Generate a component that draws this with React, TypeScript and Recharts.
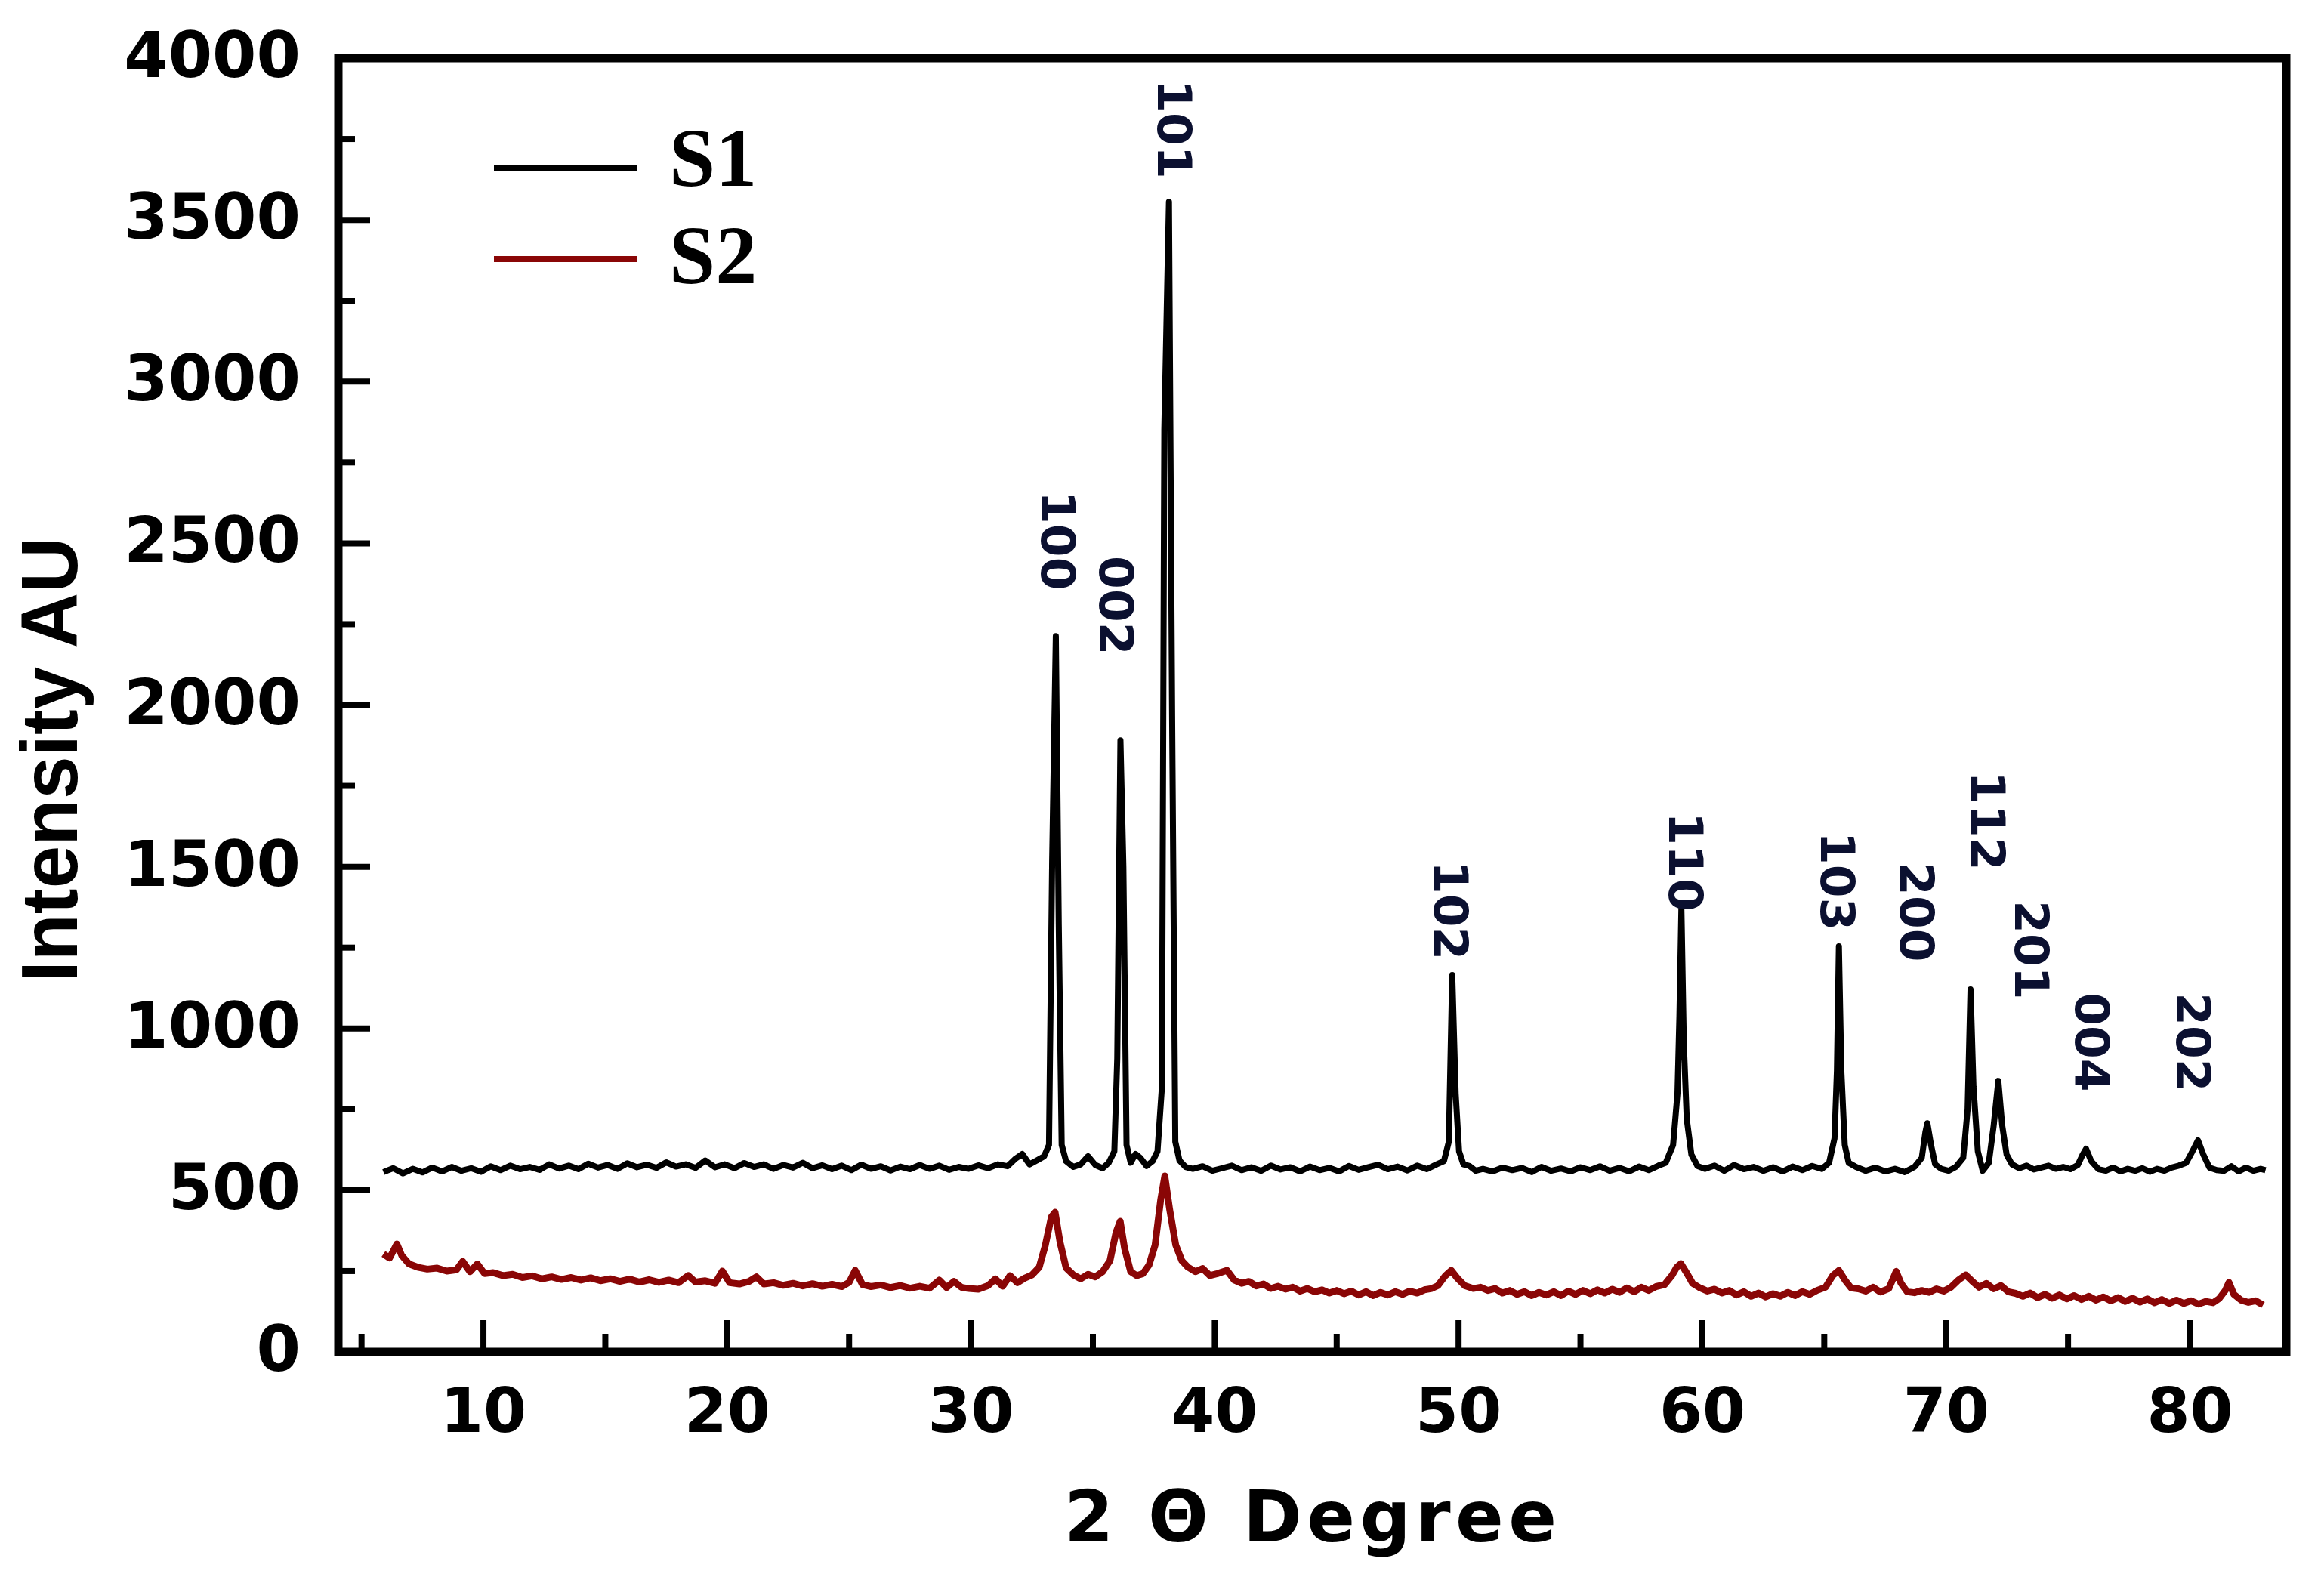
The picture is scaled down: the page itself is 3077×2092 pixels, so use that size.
import React from 'react';
import { ComposedChart, Line, Scatter, XAxis, YAxis, ReferenceArea, Legend, Label } from 'recharts';

const W = 3077;
const H = 2092;

// S1 (black) pattern: [2θ, intensity]
const s1Points: [number, number][] = [
  [5.9,556],[6.3,568],[6.7,552],[7.1,566],[7.5,555],[7.9,570],[8.3,558],[8.7,572],[9.1,560],[9.5,568],[9.9,557],[10.3,574],[10.7,562],[11.1,576],[11.5,565],[11.9,572],[12.3,563],[12.7,580],[13.1,567],[13.5,576],[13.9,565],[14.3,582],[14.7,570],[15.1,578],[15.5,566],[15.9,583],[16.3,571],[16.7,579],[17.1,569],[17.5,586],[17.9,573],[18.3,580],[18.7,569],[19.1,592],[19.5,571],[19.9,580],[20.3,568],[20.7,584],[21.1,572],[21.5,580],[21.9,566],[22.3,578],[22.7,570],[23.1,585],[23.5,568],[23.9,577],[24.3,565],[24.7,576],[25.1,562],[25.5,579],[25.9,566],[26.3,574],[26.7,561],[27.1,573],[27.5,565],[27.9,578],[28.3,566],[28.7,576],[29.1,563],[29.5,572],[29.9,566],[30.3,577],[30.7,568],[31.1,580],[31.5,574],[31.8,596],[32.1,612],[32.4,580],[32.7,592],[33.0,605],[33.2,640],[33.33,1522],[33.48,2213],[33.6,1321],[33.72,640],[33.9,590],[34.2,572],[34.5,580],[34.8,605],[35.1,578],[35.4,568],[35.65,585],[35.88,620],[36.0,908],[36.13,1891],[36.25,1499],[36.38,640],[36.55,585],[36.75,612],[36.95,600],[37.2,575],[37.45,590],[37.65,620],[37.83,817],[37.93,2851],[38.12,3556],[38.25,1968],[38.38,650],[38.55,592],[38.8,572],[39.1,566],[39.5,574],[39.9,560],[40.3,568],[40.7,576],[41.1,562],[41.5,571],[41.9,560],[42.3,576],[42.7,564],[43.1,571],[43.5,558],[43.9,573],[44.3,562],[44.7,569],[45.1,558],[45.5,575],[45.9,563],[46.3,571],[46.7,579],[47.1,565],[47.5,573],[47.9,561],[48.3,576],[48.7,565],[49.1,580],[49.4,590],[49.6,650],[49.74,1165],[49.88,798],[50.02,620],[50.2,580],[50.45,575],[50.7,560],[51.0,566],[51.4,558],[51.8,570],[52.2,562],[52.6,569],[53.0,556],[53.4,572],[53.8,560],[54.2,567],[54.6,558],[55.0,571],[55.4,562],[55.8,574],[56.2,560],[56.6,569],[57.0,558],[57.4,573],[57.8,562],[58.2,576],[58.5,585],[58.8,640],[58.98,800],[59.06,1039],[59.14,1370],[59.24,950],[59.36,720],[59.55,610],[59.8,575],[60.1,566],[60.5,576],[60.9,560],[61.3,578],[61.7,565],[62.1,572],[62.5,560],[62.9,571],[63.3,558],[63.7,573],[64.1,562],[64.5,575],[64.9,566],[65.2,585],[65.42,660],[65.52,869],[65.6,1254],[65.7,869],[65.84,640],[66.0,585],[66.3,572],[66.7,560],[67.1,570],[67.5,558],[67.9,566],[68.3,556],[68.7,572],[69.0,600],[69.15,680],[69.23,707],[69.38,640],[69.55,580],[69.8,566],[70.1,560],[70.4,572],[70.7,600],[70.88,750],[71.0,1121],[71.12,820],[71.3,620],[71.5,560],[71.75,585],[71.95,700],[72.14,838],[72.3,700],[72.48,610],[72.7,580],[73.0,568],[73.3,576],[73.6,564],[73.9,570],[74.2,576],[74.5,566],[74.8,572],[75.1,565],[75.4,578],[75.6,610],[75.74,628],[75.95,590],[76.25,565],[76.55,560],[76.85,570],[77.15,558],[77.45,566],[77.75,560],[78.05,568],[78.35,557],[78.65,566],[78.95,560],[79.25,570],[79.55,576],[79.85,585],[80.1,620],[80.33,654],[80.55,610],[80.8,570],[81.1,562],[81.4,560],[81.7,574],[82.0,558],[82.3,570],[82.6,560],[82.9,566],[83.1,562],
];

// S2 (red) pattern: [2θ, intensity]
const s2Points: [number, number][] = [
  [5.9,303],[6.15,290],[6.45,334],[6.65,298],[6.95,272],[7.3,262],[7.7,256],[8.1,259],[8.5,250],[8.9,254],[9.15,280],[9.45,248],[9.75,272],[10.05,242],[10.4,245],[10.8,236],[11.2,240],[11.6,230],[12.0,235],[12.4,226],[12.8,232],[13.2,224],[13.6,230],[14.0,222],[14.4,229],[14.8,220],[15.2,226],[15.6,218],[16.0,225],[16.4,216],[16.8,223],[17.2,215],[17.6,222],[18.0,214],[18.4,236],[18.7,216],[19.1,220],[19.5,212],[19.8,250],[20.1,214],[20.5,210],[20.9,218],[21.2,232],[21.5,210],[21.9,214],[22.3,206],[22.7,212],[23.1,204],[23.5,211],[23.9,203],[24.3,209],[24.7,202],[25.0,215],[25.25,252],[25.55,208],[25.9,202],[26.3,207],[26.7,199],[27.1,205],[27.5,197],[27.9,203],[28.3,197],[28.7,222],[29.0,199],[29.3,218],[29.6,200],[29.9,196],[30.3,194],[30.7,205],[31.0,226],[31.3,203],[31.6,236],[31.9,214],[32.2,228],[32.5,238],[32.8,262],[33.05,330],[33.3,418],[33.45,432],[33.65,340],[33.9,260],[34.2,238],[34.5,226],[34.8,240],[35.1,232],[35.4,248],[35.7,282],[35.95,370],[36.12,404],[36.3,320],[36.55,248],[36.8,236],[37.05,242],[37.3,268],[37.55,330],[37.78,470],[37.95,544],[38.15,440],[38.4,330],[38.65,282],[38.9,262],[39.2,248],[39.5,258],[39.8,236],[40.1,242],[40.5,252],[40.8,222],[41.1,212],[41.4,218],[41.7,204],[42.0,210],[42.3,196],[42.6,203],[42.9,194],[43.2,200],[43.5,188],[43.8,196],[44.1,186],[44.4,192],[44.7,182],[45.0,190],[45.3,180],[45.6,188],[45.9,176],[46.2,186],[46.5,174],[46.8,184],[47.1,176],[47.4,186],[47.7,178],[48.0,188],[48.3,182],[48.6,192],[48.9,196],[49.15,205],[49.45,235],[49.7,252],[49.95,228],[50.25,205],[50.6,196],[50.9,200],[51.2,190],[51.5,196],[51.8,182],[52.1,190],[52.4,178],[52.7,186],[53.0,174],[53.3,184],[53.6,176],[53.9,186],[54.2,174],[54.5,188],[54.8,178],[55.1,190],[55.4,180],[55.7,192],[56.0,182],[56.3,194],[56.6,184],[56.9,198],[57.2,186],[57.5,200],[57.8,190],[58.1,202],[58.45,208],[58.75,236],[58.95,262],[59.12,273],[59.35,245],[59.6,212],[59.9,198],[60.2,188],[60.5,194],[60.8,182],[61.1,190],[61.4,176],[61.7,186],[62.0,172],[62.3,182],[62.6,170],[62.9,180],[63.2,172],[63.5,184],[63.8,174],[64.1,186],[64.4,178],[64.7,190],[65.05,200],[65.35,236],[65.6,252],[65.85,222],[66.1,198],[66.4,195],[66.7,188],[67.0,200],[67.3,185],[67.65,196],[67.95,249],[68.15,212],[68.4,186],[68.7,183],[69.0,190],[69.3,184],[69.6,195],[69.9,188],[70.2,200],[70.5,222],[70.8,238],[71.05,220],[71.35,200],[71.65,212],[71.95,195],[72.25,205],[72.55,186],[72.85,181],[73.15,172],[73.45,182],[73.75,168],[74.05,178],[74.35,166],[74.65,176],[74.95,164],[75.25,174],[75.55,162],[75.85,172],[76.15,160],[76.45,170],[76.75,158],[77.05,168],[77.35,156],[77.65,166],[77.95,154],[78.25,164],[78.55,152],[78.85,162],[79.15,150],[79.45,160],[79.75,150],[80.05,158],[80.35,148],[80.65,156],[80.95,152],[81.2,165],[81.45,190],[81.6,215],[81.8,178],[82.1,160],[82.4,153],[82.7,158],[83.0,145],
];

// Miller index labels: names, 2θ position, value at top of label
const peakNames = ['100', '002', '101', '102', '110', '103', '200', '112', '201', '004', '202'];
const peakLabelX = [33.57, 35.93, 38.34, 49.68, 59.29, 65.54, 68.77, 71.71, 73.5, 75.98, 80.13];
const peakLabelTop = [2662, 2461, 3934, 1518, 1669, 1609, 1513, 1795, 1396, 1111, 1111];

const xTicks = [5, 10, 15, 20, 25, 30, 35, 40, 45, 50, 55, 60, 65, 70, 75, 80];
const yTicks = [0, 250, 500, 750, 1000, 1250, 1500, 1750, 2000, 2250, 2500, 2750, 3000, 3250, 3500, 3750, 4000];
const xDomain: [number, number] = [4.05, 83.95];
const yDomain: [number, number] = [0, 4000];

const s1Data = s1Points.map(([x, y]) => ({ x, y }));
const s2Data = s2Points.map(([x, y]) => ({ x, y }));
const labelData = peakNames.map((label, i) => ({ x: peakLabelX[i], y: peakLabelTop[i], label }));

const TICK_FONT = 'DejaVu Sans';

const XTick = (props: any) => {
  const { x, y, payload } = props;
  const v = payload.value;
  const major = v % 10 === 0;
  return (
    <g>
      <line x1={x} x2={x} y1={y} y2={y - (major ? 42 : 24)} stroke="#000" strokeWidth={8} />
      {major && (
        <text x={x} y={y + 106} textAnchor="middle" fontFamily={TICK_FONT} fontWeight="bold" fontSize={82} fill="#000">
          {v}
        </text>
      )}
    </g>
  );
};

const YTick = (props: any) => {
  const { x, y, payload } = props;
  const v = payload.value;
  const major = v % 500 === 0;
  return (
    <g>
      <line x1={x} x2={x + (major ? 42 : 22)} y1={y} y2={y} stroke="#000" strokeWidth={8} />
      {major && (
        <text x={x - 50} y={y - 4} textAnchor="end" dominantBaseline="central" fontFamily={TICK_FONT} fontWeight="bold" fontSize={84} fill="#000">
          {v}
        </text>
      )}
    </g>
  );
};

const PeakLabel = (props: any) => {
  const { cx, cy, payload } = props;
  if (cx == null || cy == null) return null;
  return (
    <text
      x={cx}
      y={cy}
      transform={`rotate(90 ${cx} ${cy})`}
      textAnchor="start"
      dominantBaseline="central"
      fontFamily={TICK_FONT}
      fontWeight="bold"
      fontSize={63}
      fill="#0b1030"
    >
      {payload.label}
    </text>
  );
};

const XTitle = () => (
  <text
    x={1735}
    y={2041}
    textAnchor="middle"
    fontFamily={TICK_FONT}
    fontWeight="bold"
    fontSize={94}
    fill="#000"
    textLength={652}
    lengthAdjust="spacing"
  >
    2 Θ Degree
  </text>
);

const YTitle = () => (
  <text
    x={102}
    y={1006}
    transform="rotate(-90 102 1006)"
    textAnchor="middle"
    fontFamily="Liberation Sans"
    fontWeight="bold"
    fontSize={106}
    fill="#000"
    textLength={589}
    lengthAdjust="spacingAndGlyphs"
  >
    Intensity AU
  </text>
);

const LegendContent = (props: any) => {
  const items = (props.payload || []).filter((p: any) => p.type !== 'none');
  const lineY = [102, 223];
  const textY = [126, 255];
  return (
    <svg width={560} height={340} style={{ display: 'block', overflow: 'visible' }}>
      {items.map((p: any, i: number) => (
        <g key={p.value}>
          <line x1={54} x2={244} y1={lineY[i]} y2={lineY[i]} stroke={p.color} strokeWidth={8} />
          <text x={286} y={textY[i]} fontFamily="Liberation Serif" fontWeight="bold" fontSize={110} fill="#000">
            {p.value}
          </text>
        </g>
      ))}
    </svg>
  );
};

export default function App() {
  return (
    <div style={{ position: 'absolute', left: 0, top: 0, width: W, height: H, background: '#fff' }}>
      <ComposedChart width={W} height={H} margin={{ top: 77, right: 50, bottom: 102, left: 148 }}>
        <XAxis
          dataKey="x"
          type="number"
          domain={xDomain}
          ticks={xTicks}
          interval={0}
          tick={XTick}
          tickLine={false}
          axisLine={false}
          tickSize={0}
          tickMargin={0}
          height={200}
          allowDataOverflow
        >
          <Label content={XTitle} />
        </XAxis>
        <YAxis
          dataKey="y"
          type="number"
          domain={yDomain}
          ticks={yTicks}
          interval={0}
          tick={YTick}
          tickLine={false}
          axisLine={false}
          tickSize={0}
          tickMargin={0}
          width={300}
          allowDataOverflow
        >
          <Label content={YTitle} />
        </YAxis>
        <Legend
          layout="horizontal"
          verticalAlign="middle"
          align="center"
          content={LegendContent}
          wrapperStyle={{ position: 'absolute', left: 600, top: 120, width: 560, height: 340 }}
        />
        <Line
          data={s1Data}
          dataKey="y"
          name="S1"
          type="linear"
          stroke="#000000"
          strokeWidth={8}
          strokeLinejoin="round"
          dot={false}
          activeDot={false}
          isAnimationActive={false}
        />
        <Line
          data={s2Data}
          dataKey="y"
          name="S2"
          type="linear"
          stroke="#8a0606"
          strokeWidth={9}
          strokeLinejoin="round"
          dot={false}
          activeDot={false}
          isAnimationActive={false}
        />
        <Scatter data={labelData} dataKey="y" shape={PeakLabel} legendType="none" isAnimationActive={false} />
        <ReferenceArea
          x1={xDomain[0]}
          x2={xDomain[1]}
          y1={yDomain[0]}
          y2={yDomain[1]}
          fill="none"
          stroke="#000"
          strokeWidth={11}
          ifOverflow="visible"
        />
      </ComposedChart>
    </div>
  );
}
